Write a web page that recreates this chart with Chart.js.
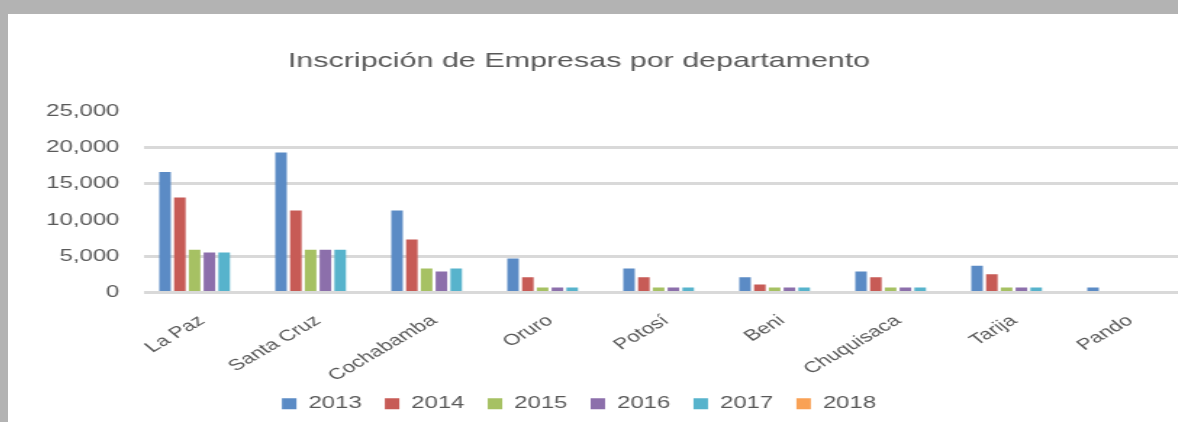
<!DOCTYPE html>
<html lang="es">
<head>
<meta charset="utf-8">
<title>Inscripción de Empresas por departamento</title>
<script src="https://cdn.jsdelivr.net/npm/chart.js@4.4.1/dist/chart.umd.min.js"></script>
<style>
  html, body { margin: 0; padding: 0; }
  body { width: 1178px; height: 422px; background: #b3b3b3; overflow: hidden; position: relative; }
  #sheet { position: absolute; left: 8px; top: 14px; right: 0; bottom: 0; background: #fff; overflow: hidden; }
  /* the original chart is stretched sideways, so draw it narrow and widen it */
  #stretch { position: absolute; left: -38px; top: 0; transform: scaleX(1.45); transform-origin: 0 0; }
</style>
</head>
<body>
<div id="sheet"><div id="stretch"><canvas id="chart" width="840" height="408"></canvas></div></div>
<script>
// Data
const departamentos = ['La Paz', 'Santa Cruz', 'Cochabamba', 'Oruro', 'Potosí', 'Beni', 'Chuquisaca', 'Tarija', 'Pando'];
const anios = ['2013', '2014', '2015', '2016', '2017', '2018'];
const v2013 = [16600, 19300, 11300, 4700, 3300, 2100, 2900, 3700, 700];
const v2014 = [13100, 11300, 7300, 2100, 2100, 1100, 2100, 2500, 0];
const v2015 = [5900, 5900, 3300, 700, 700, 700, 700, 700, 0];
const v2016 = [5500, 5900, 2900, 700, 700, 700, 700, 700, 0];
const v2017 = [5500, 5900, 3300, 700, 700, 700, 700, 700, 0];
const v2018 = [0, 0, 0, 0, 0, 0, 0, 0, 0];
const yTicks = [0, 5000, 10000, 15000, 20000, 25000];

const series = [v2013, v2014, v2015, v2016, v2017, v2018];
const colores = ['#5b8bc5', '#c75b56', '#a6c163', '#8c6fab', '#57b3cc', '#f9a155'];
const gris = '#595959';

Chart.defaults.font.family = "'Liberation Sans', Arial, sans-serif";
Chart.defaults.color = gris;

const ctx = document.getElementById('chart').getContext('2d');

new Chart(ctx, {
  type: 'bar',
  data: {
    labels: departamentos,
    datasets: series.map((data, i) => ({
      label: anios[i],
      data: data,
      backgroundColor: colores[i],
      borderWidth: 0,
      categoryPercentage: 0.765,
      barPercentage: 0.78
    }))
  },
  options: {
    responsive: false,
    animation: false,
    layout: { padding: 0 },
    plugins: {
      title: {
        display: true,
        text: 'Inscripción de Empresas por departamento',
        color: gris,
        font: { size: 21, weight: 'normal' },
        padding: { top: 35, bottom: 37 }
      },
      legend: {
        position: 'bottom',
        labels: {
          color: gris,
          font: { size: 16.5 },
          boxWidth: 10,
          boxHeight: 11,
          padding: 16
        }
      },
      tooltip: { enabled: false }
    },
    scales: {
      x: {
        grid: { display: false, drawTicks: false },
        border: { display: false },
        afterFit: s => {
          s.height = 87;
          // long names run into the legend gap in the source, so don't clip them
          s._computeLabelArea = () => null;
        },
        ticks: {
          color: gris,
          font: { size: 15.5 },
          minRotation: 40,
          maxRotation: 40,
          autoSkip: false,
          padding: 19
        }
      },
      y: {
        min: 0,
        max: 25000,
        afterFit: s => { s.width = 120; },
        afterBuildTicks: s => { s.ticks = yTicks.map(v => ({ value: v })); },
        border: { display: false },
        grid: {
          drawTicks: false,
          lineWidth: 3,
          // 10,000 and 25,000 lines are not visible in the source
          color: c => (c.tick && (c.tick.value === 10000 || c.tick.value === 25000)) ? 'rgba(0,0,0,0)' : '#d9d9d9'
        },
        ticks: {
          color: gris,
          font: { size: 16.5 },
          padding: 17,
          callback: v => v.toLocaleString('en-US')
        }
      }
    }
  }
});
</script>
</body>
</html>
